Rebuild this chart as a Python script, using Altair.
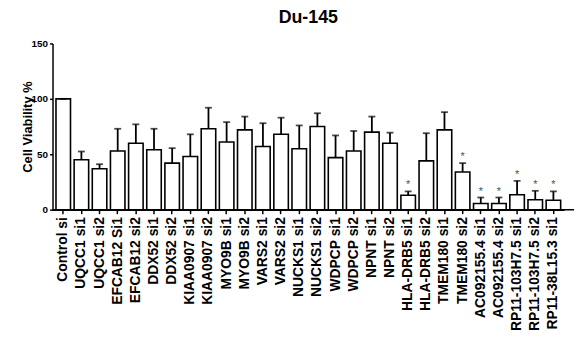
import altair as alt
import pandas as pd

labels = [
    "Control si", "UQCC1 si1", "UQCC1 si2", "EFCAB12 Si1", "EFCAB12 si2",
    "DDX52 si1", "DDX52 si2", "KIAA0907 si1", "KIAA0907 si2", "MYO9B si1",
    "MYO9B si2", "VARS2 si1", "VARS2 si2", "NUCKS1 si1", "NUCKS1 si2",
    "WDPCP si1", "WDPCP si2", "NPNT si1", "NPNT si2", "HLA-DRB5 si1",
    "HLA-DRB5 si2", "TMEM180 si1", "TMEM180 si2", "AC092155.4 si1",
    "AC092155.4 si2", "RP11-103H7.5 si1", "RP11-103H7.5 si2", "RP11-38L15.3 si1",
]
means = [100, 45, 37, 53, 60, 54, 42, 48, 73, 61, 72, 57, 68, 55, 75,
         47, 53, 70, 60, 13, 44, 72, 34, 5.5, 5.5, 13.5, 9, 8.5]
uppers = [100, 52.5, 41, 73, 77, 73, 55.5, 68, 92, 79, 84, 78, 83, 76, 87,
          67, 71, 84, 69.5, 16.5, 69, 88, 42, 11, 11, 26, 17, 16.5]
stars = [False] * 19 + [True, False, False, True, True, True, True, True, True]

df = pd.DataFrame({"label": labels, "mean": means, "upper": uppers, "star": stars})

font = "Liberation Sans"

x = alt.X("label:N", sort=labels, title=None,
          scale=alt.Scale(paddingInner=0.2, paddingOuter=0.19),
          axis=alt.Axis(labelAngle=-90, labelFont=font, labelFontSize=14,
                        labelFontWeight="bold", labelColor="black",
                        domainColor="black", domainWidth=1.5,
                        tickColor="black", tickWidth=1.5, tickSize=4,
                        labelPadding=3, labelLimit=300))
y_scale = alt.Scale(domain=[0, 150], nice=False)
y = alt.Y("mean:Q", scale=y_scale, title="Cell Viability %",
          axis=alt.Axis(values=[0, 50, 100, 150], grid=False,
                        labelFont=font, labelFontSize=10, labelFontWeight="bold",
                        labelColor="black", domainColor="black", domainWidth=1.5,
                        tickColor="black", tickWidth=1.5, tickSize=3, labelPadding=2,
                        titleFont=font, titleFontSize=13, titleFontWeight="bold",
                        titleColor="black", titleX=-25, titleY=84,
                        titleAngle=-90, titleAlign="center", titleBaseline="middle"))

base = alt.Chart(df)

bars = base.mark_bar(fill="white", stroke="black", strokeWidth=1.6).encode(x=x, y=y)

err = base.mark_rule(color="black", strokeWidth=1.8).encode(
    x=alt.X("label:N", sort=labels),
    y=alt.Y("mean:Q", scale=y_scale),
    y2="upper:Q",
)

caps = base.mark_tick(color="black", thickness=1.8, size=7).encode(
    x=alt.X("label:N", sort=labels),
    y=alt.Y("upper:Q", scale=y_scale),
)

star_marks = base.transform_filter("datum.star").transform_calculate(
    sy="datum.upper + 8"
).mark_text(text="*", font=font, fontSize=11, color="#555555",
            baseline="middle", dy=3).encode(
    x=alt.X("label:N", sort=labels),
    y=alt.Y("sy:Q", scale=y_scale),
)

axis_ext = alt.Chart(pd.DataFrame({"k": [0]})).mark_rule(
    color="black", strokeWidth=1.5
).encode(x=alt.value(0), x2=alt.value(527), y=alt.value(168))

chart = alt.layer(bars, err, caps, star_marks, axis_ext).properties(
    width=517, height=168,
    title=alt.TitleParams("Du-145", font=font, fontSize=18, fontWeight="bold",
                          color="black", anchor="middle", offset=12),
    autosize=alt.AutoSizeParams(type="none"),
    padding={"left": 45, "top": 34, "right": 10, "bottom": 140},
).configure_view(stroke=None)

chart.save("out.html", embed_options={"renderer": "svg", "actions": False})
